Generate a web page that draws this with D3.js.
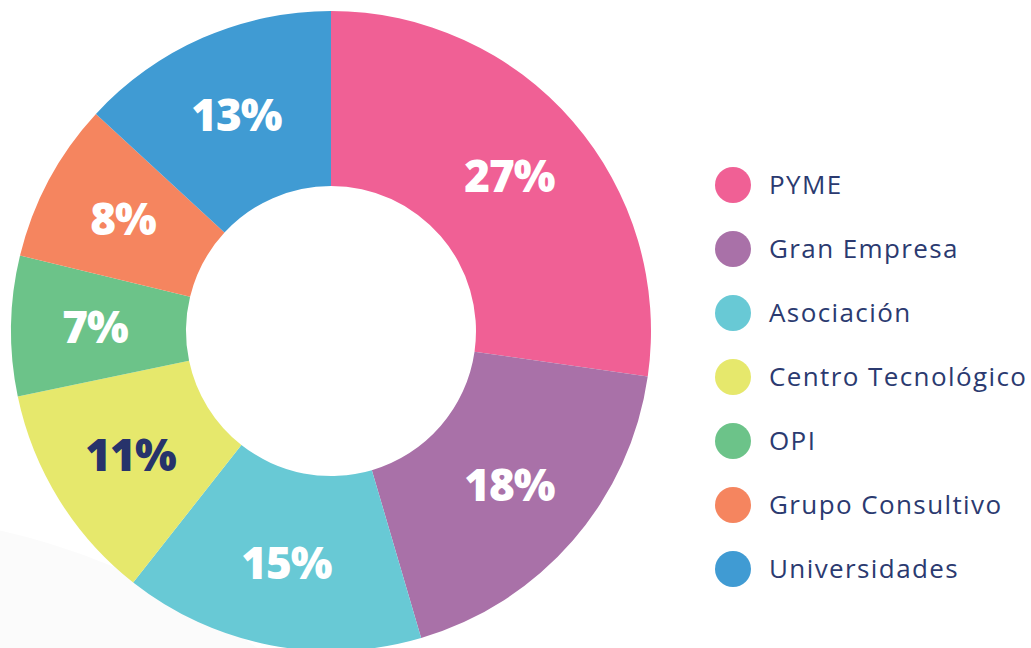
<!DOCTYPE html>
<html>
<head>
<meta charset="utf-8">
<script src="https://cdn.jsdelivr.net/npm/d3@7"></script>
<style>
  body { margin: 0; background: #fff; }
  svg { display: block; }
</style>
</head>
<body>
<svg></svg>
<script>
// Categories and shares (%), clockwise from 12 o'clock
const categories = ["PYME", "Gran Empresa", "Asociación", "Centro Tecnológico", "OPI", "Grupo Consultivo", "Universidades"];
const values = [27, 18, 15, 11, 7, 8, 13];
const colors = ["#f06095", "#a971a8", "#68c9d5", "#e6e86c", "#6cc389", "#f5855f", "#409bd3"];
const labelColors = ["#fff", "#fff", "#fff", "#27336b", "#fff", "#fff", "#fff"];

const width = 1031, height = 648;
const cx = 331, cy = 331;
const outerR = 320, innerR = 145;

const svg = d3.select("svg")
    .attr("width", width)
    .attr("height", height);

// faint background shape in the lower left
svg.append("circle")
    .attr("cx", -150)
    .attr("cy", 1200)
    .attr("r", 686)
    .attr("fill", "#fbfbfb");

const data = categories.map((c, i) => ({ name: c, value: values[i], color: colors[i], label: labelColors[i] }));

const pie = d3.pie()
    .value(d => d.value)
    .sort(null);

const arc = d3.arc()
    .innerRadius(innerR)
    .outerRadius(outerR);

const labelArc = d3.arc()
    .innerRadius(236)
    .outerRadius(236);

const g = svg.append("g")
    .attr("transform", `translate(${cx},${cy})`);

const arcs = pie(data);

g.selectAll("path")
    .data(arcs)
    .join("path")
    .attr("d", arc)
    .attr("fill", d => d.data.color);

g.selectAll("text")
    .data(arcs)
    .join("text")
    .attr("transform", d => `translate(${labelArc.centroid(d)})`)
    .attr("text-anchor", "middle")
    .attr("dy", "0.36em")
    .attr("fill", d => d.data.label)
    .style("font-family", "'Open Sans', sans-serif")
    .style("font-weight", 800)
    .style("font-size", "44px")
    .style("letter-spacing", "-1px")
    .text(d => d.data.value + "%");

// Legend
const legendY = d3.scalePoint()
    .domain(categories)
    .range([185, 569]);

const legend = svg.append("g")
    .selectAll("g")
    .data(data)
    .join("g")
    .attr("transform", d => `translate(733,${legendY(d.name)})`);

legend.append("circle")
    .attr("r", 18)
    .attr("fill", d => d.color);

legend.append("text")
    .attr("x", 36)
    .attr("dy", "0.35em")
    .attr("fill", "#2b3a70")
    .style("font-family", "'Open Sans', sans-serif")
    .style("font-size", "26px")
    .style("letter-spacing", "1.4px")
    .text(d => d.name);
</script>
</body>
</html>
